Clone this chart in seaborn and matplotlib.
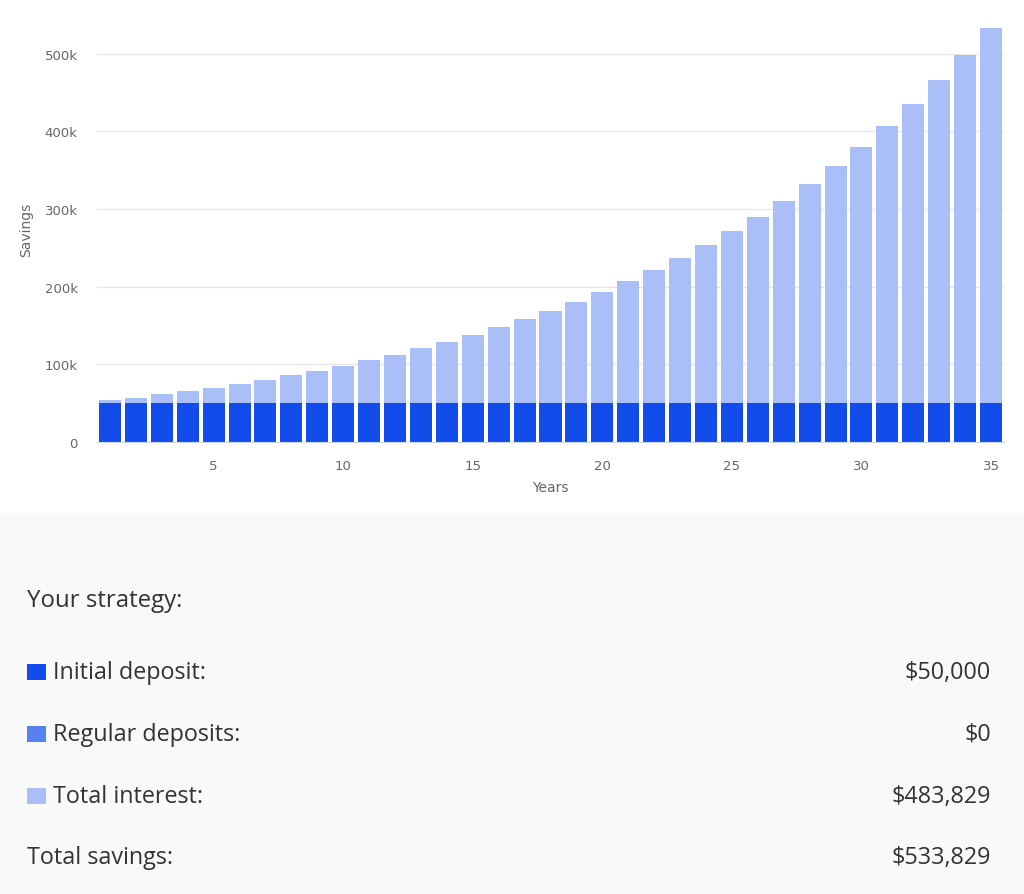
import matplotlib
matplotlib.use("Agg")
import matplotlib.pyplot as plt
import seaborn as sns
import pandas as pd
from matplotlib.patches import Rectangle
from matplotlib.ticker import FuncFormatter

# values
years = list(range(1, 36))
total = [53500, 57200, 61300, 65500, 70100, 75000, 80300, 85900, 91900, 98400,
         105200, 112600, 120500, 128900, 138000, 147600, 157900, 169000, 180800, 193500,
         207000, 221500, 237000, 253600, 271400, 290400, 310700, 332400, 355700, 380600,
         407300, 435800, 466300, 498900, 533829]
initial = [50000] * 35

legend_labels = ["Initial deposit:", "Regular deposits:", "Total interest:"]
legend_values = ["$50,000", "$0", "$483,829"]
total_label = "Total savings:"
total_value = "$533,829"

c_init = "#124CEB"
c_reg = "#5581F1"
c_int = "#AABFF7"
txt = "#333333"

df = pd.DataFrame({"Years": years, "total": total, "initial": initial})

sns.set_style("white")
plt.rcParams["font.family"] = ["DejaVu Sans"]

fig = plt.figure(figsize=(10.24, 8.95), dpi=100)
fig.patch.set_facecolor("white")

# grey strategy panel
fig.patches.append(Rectangle((0, 0), 1, 381 / 895, transform=fig.transFigure,
                             facecolor="#f9f9f9", edgecolor="none", zorder=0))

ax = fig.add_axes([97 / 1024, 452 / 895, 907 / 1024, 427 / 895])
ax.set_facecolor("white")
sns.barplot(data=df, x="Years", y="total", native_scale=True, color=c_int,
            saturation=1, width=0.85, ax=ax, edgecolor="none", zorder=2)
sns.barplot(data=df, x="Years", y="initial", native_scale=True, color=c_init,
            saturation=1, width=0.85, ax=ax, edgecolor="none", zorder=3)

ax.set_xlim(0.5, 35.5)
ax.set_ylim(0, 550000)
ax.set_yticks([0, 100000, 200000, 300000, 400000, 500000])
ax.yaxis.set_major_formatter(FuncFormatter(lambda v, p: "0" if v == 0 else f"{int(v / 1000)}k"))
ax.set_xticks([5, 10, 15, 20, 25, 30, 35])
ax.grid(axis="y", color="#e6e6e6", linewidth=1, zorder=0)
ax.set_axisbelow(True)
for s in ["top", "right", "left"]:
    ax.spines[s].set_visible(False)
ax.spines["bottom"].set_color("#ccd6eb")
ax.spines["bottom"].set_zorder(4)
ax.tick_params(axis="x", length=8, color="#ccd6eb", labelsize=9.5, labelcolor="#666666", pad=4)
ax.tick_params(axis="y", length=0, labelsize=9.5, labelcolor="#666666", pad=14)
ax.set_xlabel("Years", fontsize=10, color="#666666", labelpad=6)
ax.set_ylabel("Savings", fontsize=10, color="#666666")
ax.yaxis.set_label_coords(-0.07, 0.5)

# strategy text block
def fy(py):
    return 1 - py / 895

ff = ["Open Sans", "DejaVu Sans"]
fig.text(27 / 1024, fy(601), "Your strategy:", fontsize=17.3, color=txt,
         va="center", ha="left", family=ff)
rows_y = [673, 735, 797]
colors = [c_init, c_reg, c_int]
for lab, val, yy, c in zip(legend_labels, legend_values, rows_y, colors):
    fig.patches.append(Rectangle((27 / 1024, fy(yy + 8)), 19 / 1024, 16 / 895,
                                 transform=fig.transFigure, facecolor=c,
                                 edgecolor="none", zorder=2))
    fig.text(53 / 1024, fy(yy), lab, fontsize=16.8, color=txt, va="center",
             ha="left", family=ff)
    fig.text(991 / 1024, fy(yy), val, fontsize=16.8, color=txt, va="center",
             ha="right", family=ff)
fig.text(27 / 1024, fy(858), total_label, fontsize=16.8, color=txt, va="center",
         ha="left", family=ff)
fig.text(991 / 1024, fy(858), total_value, fontsize=16.8, color=txt, va="center",
         ha="right", family=ff)

fig.savefig("out.png", dpi=100)
